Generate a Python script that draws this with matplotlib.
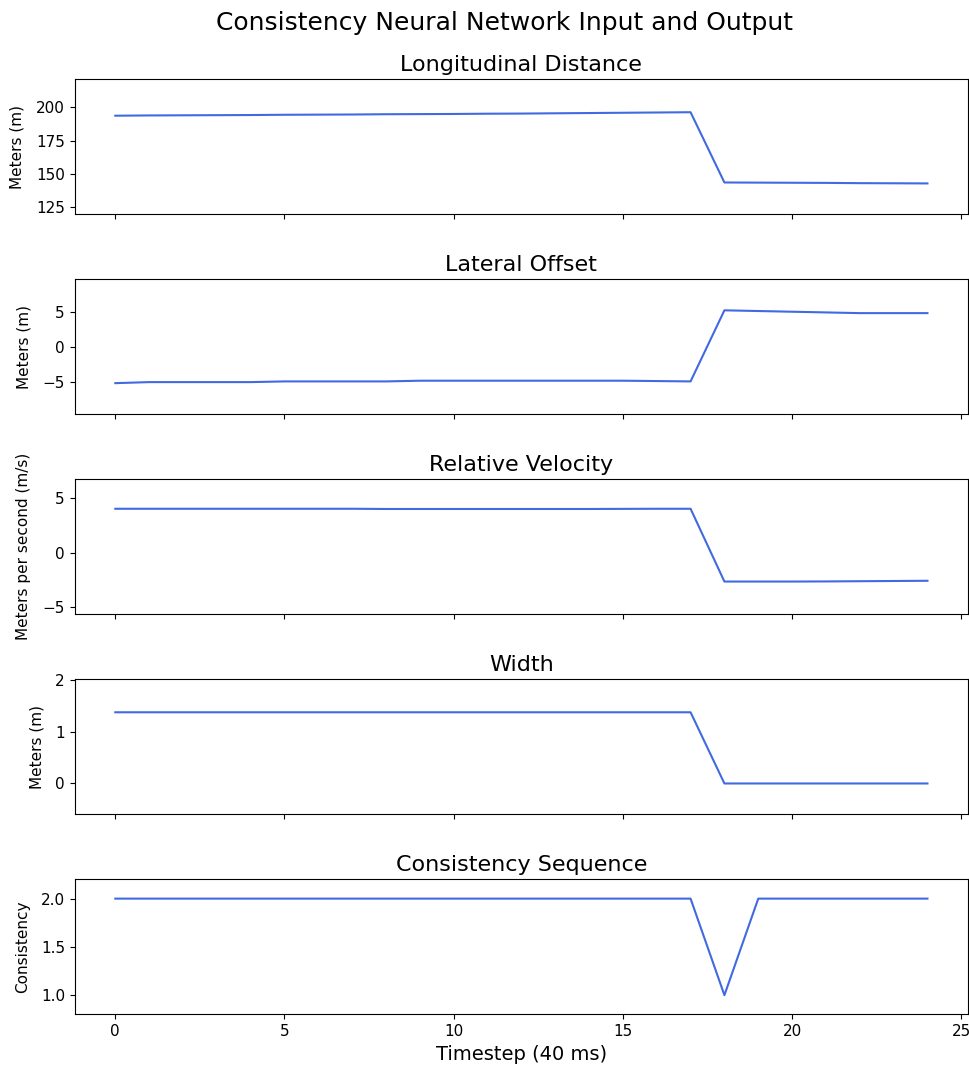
import matplotlib
matplotlib.use("Agg")
import matplotlib.pyplot as plt

timesteps = list(range(25))

longitudinal_distance = [193.6, 193.8, 193.9, 194.0, 194.1, 194.3, 194.4, 194.5, 194.7,
                         194.8, 194.9, 195.1, 195.2, 195.4, 195.6, 195.8, 196.0, 196.2,
                         143.6, 143.5, 143.4, 143.3, 143.1, 143.0, 142.9]

lateral_offset = [-5.2, -5.05, -5.05, -5.05, -5.05, -4.95, -4.95, -4.95, -4.95,
                  -4.85, -4.85, -4.85, -4.85, -4.85, -4.85, -4.85, -4.9, -4.95,
                  5.2, 5.1, 5.0, 4.9, 4.8, 4.8, 4.8]

relative_velocity = [4.0, 4.0, 4.0, 4.0, 4.0, 4.0, 4.0, 4.0, 3.98, 3.98, 3.98, 3.98,
                     3.98, 3.98, 3.98, 3.99, 4.0, 4.0,
                     -2.65, -2.65, -2.65, -2.64, -2.62, -2.6, -2.58]

width = [1.38] * 18 + [0.0] * 7

consistency = [2.0] * 18 + [1.0] + [2.0] * 6

panel_titles = ["Longitudinal Distance", "Lateral Offset", "Relative Velocity",
                "Width", "Consistency Sequence"]
panel_ylabels = ["Meters (m)", "Meters (m)", "Meters per second (m/s)",
                 "Meters (m)", "Consistency"]
panel_series = [longitudinal_distance, lateral_offset, relative_velocity,
                width, consistency]
panel_ylims = [(119.8, 221.0), (-9.65, 9.65), (-5.65, 6.7), (-0.6, 2.02), (0.8, 2.2)]
panel_yticks = [[125, 150, 175, 200], [-5, 0, 5], [-5, 0, 5], [0, 1, 2],
                [1.0, 1.5, 2.0]]

fig, axes = plt.subplots(5, 1, sharex=True, figsize=(9.7, 10.69), dpi=100)
fig.subplots_adjust(left=0.077, right=0.998, top=0.926, bottom=0.051, hspace=0.48)

line_color = "#4169E1"
for ax, title, ylabel, series, ylim, yticks in zip(axes, panel_titles, panel_ylabels,
                                                  panel_series, panel_ylims, panel_yticks):
    ax.plot(timesteps, series, color=line_color, linewidth=1.5)
    ax.set_title(title, fontsize=16)
    ax.set_ylabel(ylabel, fontsize=11, labelpad=8)
    ax.set_ylim(*ylim)
    ax.set_yticks(yticks)
    ax.tick_params(labelsize=11)

axes[-1].set_xticks([0, 5, 10, 15, 20, 25])
axes[-1].set_xlabel("Timestep (40 ms)", fontsize=14)

fig.suptitle("Consistency Neural Network Input and Output", fontsize=18,
             x=0.52, y=0.99)

fig.savefig("out.png", dpi=100)
